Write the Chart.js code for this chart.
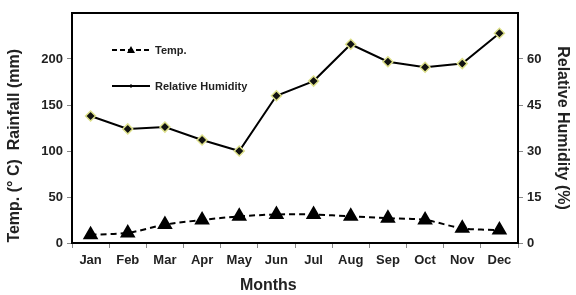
<!DOCTYPE html>
<html>
<head>
<meta charset="utf-8">
<script src="https://cdn.jsdelivr.net/npm/chart.js@4.4.0/dist/chart.umd.min.js"></script>
<style>
  html, body { margin: 0; padding: 0; background: #fff; }
  #wrap { width: 576px; height: 295px; }
</style>
</head>
<body>
<div id="wrap"><canvas id="chart1"></canvas></div>
<script>
// values
const months = ['Jan', 'Feb', 'Mar', 'Apr', 'May', 'Jun', 'Jul', 'Aug', 'Sep', 'Oct', 'Nov', 'Dec'];
const temp = [9, 11, 20, 25, 29, 31, 31, 29, 27, 25, 16, 14];
const humidity = [41.4, 37.2, 37.8, 33.6, 30, 48, 52.8, 64.8, 59.1, 57.3, 58.5, 68.4];
const leftTicks = [0, 50, 100, 150, 200];
const rightTicks = [0, 15, 30, 45, 60];

const fontFamily = '"Liberation Sans", Arial, sans-serif';

// frame round the plot + legend drawn inside the plot area
const framePlugin = {
    id: 'frame',
    afterDraw(chart) {
        const c = chart.ctx;
        const a = chart.chartArea;
        c.save();
        c.strokeStyle = '#000';
        c.lineWidth = 2;
        c.strokeRect(a.left, a.top, a.right - a.left, a.bottom - a.top);

        c.lineWidth = 2;
        c.font = 'bold 11px ' + fontFamily;
        c.fillStyle = '#222';
        c.textBaseline = 'middle';

        // Temp.
        c.setLineDash([5, 3]);
        c.beginPath(); c.moveTo(112, 50); c.lineTo(150, 50); c.stroke();
        c.setLineDash([]);
        c.beginPath(); c.moveTo(131, 46); c.lineTo(135, 53); c.lineTo(127, 53); c.closePath();
        c.fillStyle = '#000'; c.fill();
        c.fillStyle = '#222';
        c.fillText('Temp.', 155, 51);

        // Relative Humidity
        c.beginPath(); c.moveTo(112, 86); c.lineTo(150, 86); c.stroke();
        c.fillStyle = '#000';
        c.beginPath(); c.moveTo(131, 84); c.lineTo(133, 86); c.lineTo(131, 88); c.lineTo(129, 86); c.closePath(); c.fill();
        c.fillStyle = '#222';
        c.fillText('Relative Humidity', 155, 87);
        c.restore();
    }
};

new Chart(document.getElementById('chart1'), {
    type: 'line',
    data: {
        labels: months,
        datasets: [{
            label: 'Temp.',
            data: temp,
            yAxisID: 'y',
            borderColor: '#000',
            borderWidth: 2,
            borderDash: [6, 4],
            pointStyle: 'triangle',
            pointRadius: 7,
            pointBackgroundColor: '#000',
            pointBorderColor: '#000',
            tension: 0.3
        }, {
            label: 'Relative Humidity',
            data: humidity,
            yAxisID: 'y1',
            borderColor: '#000',
            borderWidth: 2,
            pointStyle: 'rectRot',
            pointRadius: 5,
            pointBackgroundColor: '#111',
            pointBorderColor: '#dde08a',
            pointBorderWidth: 1.5,
            tension: 0
        }]
    },
    options: {
        responsive: true,
        maintainAspectRatio: false,
        animation: false,
        layout: { padding: { top: 13, bottom: 0, left: 0, right: 0 } },
        plugins: { legend: { display: false }, tooltip: { enabled: false } },
        scales: {
            x: {
                offset: true,
                grid: { display: true, offset: true, drawOnChartArea: false, tickLength: 5, color: '#888', tickColor: '#888' },
                border: { color: '#000', width: 2 },
                ticks: { color: '#222', font: { family: fontFamily, size: 13, weight: 'bold' }, padding: 5, maxRotation: 0 },
                // trailing spaces push the title left, as in the source picture
                title: { display: true, text: 'Months            ', color: '#222', font: { family: fontFamily, size: 16, weight: 'bold' }, padding: { top: 5, bottom: 0 } },
                afterFit(scale) { scale.height = 52; }
            },
            y: {
                position: 'left',
                min: 0,
                max: 250,
                afterBuildTicks(scale) { scale.ticks = leftTicks.map(v => ({ value: v })); },
                grid: { drawOnChartArea: false, tickLength: 5, color: '#888', tickColor: '#888' },
                border: { color: '#000', width: 2 },
                ticks: { color: '#222', font: { family: fontFamily, size: 13, weight: 'bold' }, padding: 4 },
                title: { display: true, text: 'Temp. (° C)  Rainfall (mm)        ', color: '#222', font: { family: fontFamily, size: 16, weight: 'bold' }, padding: { top: 5, bottom: 0 } },
                afterFit(scale) { scale.width = 72; }
            },
            y1: {
                position: 'right',
                min: 0,
                max: 75,
                afterBuildTicks(scale) { scale.ticks = rightTicks.map(v => ({ value: v })); },
                grid: { drawOnChartArea: false, tickLength: 5, color: '#888', tickColor: '#888' },
                border: { color: '#000', width: 2 },
                ticks: { color: '#222', font: { family: fontFamily, size: 13, weight: 'bold' }, padding: 4 },
                title: { display: true, text: 'Relative Humidity (%)', color: '#222', font: { family: fontFamily, size: 16, weight: 'bold' }, padding: { top: 4, bottom: 0 } },
                afterFit(scale) { scale.width = 58; }
            }
        }
    },
    plugins: [framePlugin]
});
</script>
</body>
</html>
